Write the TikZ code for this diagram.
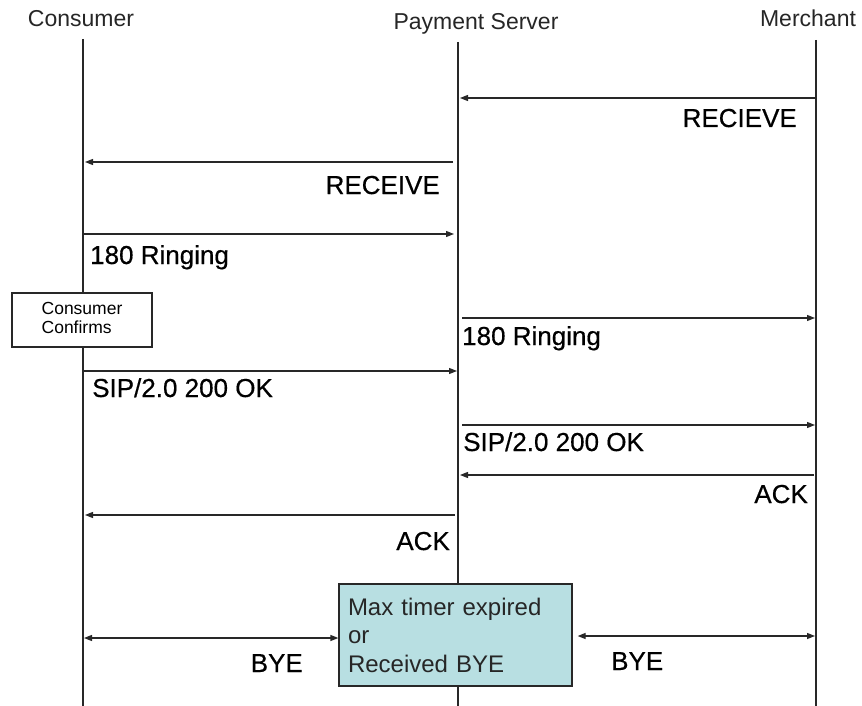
\documentclass[tikz,border=0pt]{standalone}
\usepackage{fontspec}
\setmainfont{Liberation Sans}
\newfontfamily\heavyfont{Liberation Sans}[FakeBold=0.5]
\usetikzlibrary{arrows.meta}
\definecolor{linegray}{RGB}{40,40,40}
\definecolor{timercyan}{RGB}{184,223,226}
\begin{document}
\begin{tikzpicture}[x=1pt,y=-1pt,
  lifeline/.style={draw=linegray,line width=1.3pt},
  msg/.style={draw=linegray,line width=1.3pt,-{Triangle[length=8pt,width=6pt]}},
  dmsg/.style={draw=linegray,line width=1.3pt,{Triangle[length=8pt,width=6pt]}-{Triangle[length=8pt,width=6pt]}},
  header/.style={font=\fontsize{23}{27}\selectfont,text=black!85,inner sep=0pt},
  lbl/.style={font=\heavyfont\fontsize{26}{31}\selectfont,inner sep=0pt},
  notebox/.style={draw=linegray,line width=1.3pt,fill=white,inner sep=0pt,
    font=\fontsize{17.5}{20}\selectfont,align=left},
  timerbox/.style={draw=linegray,line width=1.3pt,fill=timercyan,inner sep=0pt,
    text=black!85,font=\fontsize{24}{28.5}\selectfont,align=left}]
\useasboundingbox (0,0) rectangle (862,706);

% participants
\node[header,anchor=base] (hc) at (81,27) {Consumer};
\node[header,anchor=base] (hp) at (476,30) {Payment Server};
\node[header,anchor=base] (hm) at (808,27) {Merchant};

\coordinate (cT) at (83,39);
\coordinate (cB) at (83,706);
\coordinate (pT) at (458,42);
\coordinate (pB) at (458,706);
\coordinate (mT) at (816,40);
\coordinate (mB) at (816,706);

% lifelines
\draw[lifeline] (cT) -- (cB);
\draw[lifeline] (pT) -- (pB);
\draw[lifeline] (mT) -- (mB);

% boxes sitting on the lifelines
\node[notebox,minimum width=140,minimum height=54] (confirm) at (82,320)
  {\begin{tabular}{@{}l@{}}Consumer\\[-1pt]Confirms\end{tabular}};
\node[timerbox,minimum width=233,minimum height=102,text width=215] (timer) at (455.5,635)
  {Max timer expired\\or\\Received BYE};

% messages
\draw[msg] (815,98) -- (460,98);
\node[lbl,anchor=base east] (l1) at (797,127) {RECIEVE};

\draw[msg] (453,162) -- (85,162);
\node[lbl,anchor=base east] (l2) at (440,194) {RECEIVE};

\draw[msg] (83,234) -- (454,234);
\node[lbl,anchor=base west] (l3) at (90,264) {180 Ringing};

\draw[msg] (462,318) -- (815,318);
\node[lbl,anchor=base west] (l4) at (462,345) {180 Ringing};

\draw[msg] (84,371) -- (457,371);
\node[lbl,anchor=base west] (l5) at (92,397) {SIP/2.0 200 OK};

\draw[msg] (462,425) -- (815,425);
\node[lbl,anchor=base west] (l6) at (463,451) {SIP/2.0 200 OK};

\draw[msg] (814,475) -- (460,475);
\node[lbl,anchor=base east] (l7) at (808,503) {ACK};

\draw[msg] (455,515) -- (85,515);
\node[lbl,anchor=base east] (l8) at (450,550) {ACK};

\draw[dmsg] (84,638) -- (timer.west |- 0,638);
\node[lbl,anchor=base east] (l9) at (303,672) {BYE};

\draw[dmsg] (timer.east |- 0,636) ++(5,0) -- (815,636);
\node[lbl,anchor=base west] (l10) at (611,670) {BYE};
\end{tikzpicture}
\end{document}
